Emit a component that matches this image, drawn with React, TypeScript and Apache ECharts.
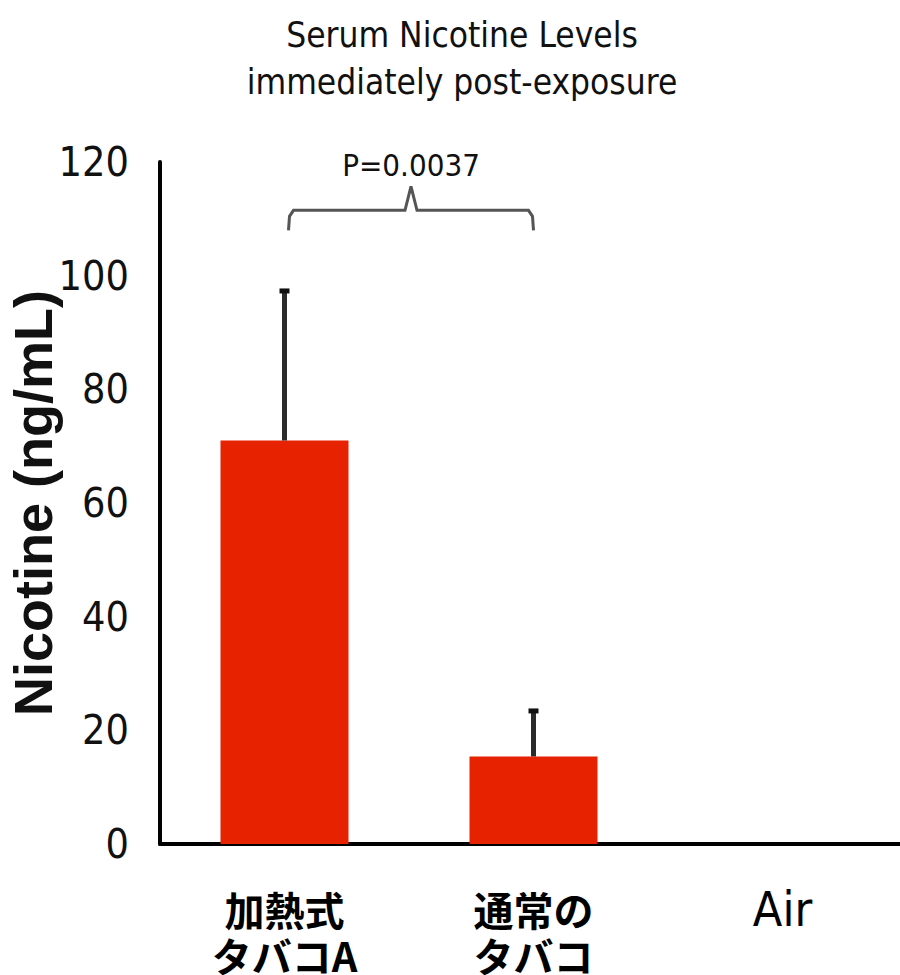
import React, { useEffect, useRef } from "react";
import * as echarts from "echarts";

// ---- data ----
const categories: string[] = ["加熱式\nタバコA", "通常の\nタバコ", "Air"];
const meanNicotine: number[] = [71, 15.4, 0];
const sdNicotine: number[] = [26.4, 8.1, 0];
const yTicks = { min: 0, max: 120, interval: 20 };
const titleLines: string[] = ["Serum Nicotine Levels", "immediately post-exposure"];
const yAxisName = "Nicotine (ng/mL)";
const pValueLabel = "P=0.0037";
const comparePair: number[] = [0, 1];
const bracketLevel = 111.5;

const NARROW = '"Liberation Sans Narrow", "DejaVu Sans Condensed", "Liberation Sans", sans-serif';
const CJK = '"Noto Sans CJK JP", "Noto Sans", sans-serif';

export default function App() {
  const ref = useRef<HTMLDivElement>(null);
  useEffect(() => {
    if (!ref.current) return;
    const chart = echarts.init(ref.current, null, { renderer: "svg" });
    const option: any = {
      animation: false,
      backgroundColor: "#ffffff",
      title: {
        text: titleLines.join("\n"),
        left: 457,
        top: 6,
        textAlign: "center",
        textStyle: {
          fontFamily: NARROW,
          fontSize: 35,
          fontWeight: "normal",
          lineHeight: 47,
          color: "#111",
        },
      },
      grid: {
        left: 160,
        right: -7,
        top: 162,
        bottom: 131,
        containLabel: false,
        outerBoundsMode: "none",
      },
      xAxis: {
        type: "category",
        data: categories,
        axisLine: { show: true, lineStyle: { color: "#000", width: 4 } },
        axisTick: { show: false },
        axisLabel: {
          interval: 0,
          margin: 42,
          hideOverlap: false,
          formatter: (v: string) =>
            v === "Air"
              ? "{a|Air}"
              : v
                  .split("\n")
                  .map((l) => `{c|${l}}`)
                  .join("\n"),
          rich: {
            c: {
              fontFamily: CJK,
              fontWeight: "bold",
              fontSize: 40,
              lineHeight: 46,
              color: "#000",
            },
            a: {
              fontFamily: NARROW,
              fontSize: 48,
              lineHeight: 46,
              color: "#000",
            },
          },
        },
      },
      yAxis: {
        type: "value",
        min: yTicks.min,
        max: yTicks.max,
        interval: yTicks.interval,
        name: yAxisName,
        nameLocation: "middle",
        nameGap: 100,
        nameMoveOverlap: false,
        nameTextStyle: {
          fontFamily: '"Liberation Sans", Arial, sans-serif',
          fontWeight: "bold",
          fontSize: 54,
          color: "#111",
        },
        axisLine: { show: true, lineStyle: { color: "#000", width: 4 } },
        axisTick: { show: false },
        splitLine: { show: false },
        axisLabel: {
          margin: 31,
          fontFamily: NARROW,
          fontSize: 41,
          color: "#111",
        },
      },
      series: [
        {
          type: "bar",
          data: meanNicotine,
          barWidth: 128,
          itemStyle: { color: "#e62200" },
          z: 2,
        },
        {
          type: "custom",
          z: 3,
          data: categories.map((_, i) => [i, meanNicotine[i], sdNicotine[i]]),
          renderItem: (params: any, api: any) => {
            const sd = api.value(2);
            if (!sd) return null;
            const base = api.coord([api.value(0), api.value(1)]);
            const top = api.coord([api.value(0), api.value(1) + sd]);
            return {
              type: "group",
              children: [
                {
                  type: "line",
                  shape: { x1: top[0], y1: top[1], x2: base[0], y2: base[1] },
                  style: { stroke: "#2b2b2b", lineWidth: 5 },
                },
                {
                  type: "rect",
                  shape: { x: top[0] - 5, y: top[1] - 2, width: 10, height: 5 },
                  style: { fill: "#111" },
                },
              ],
            };
          },
        },
        {
          type: "custom",
          z: 3,
          data: [[comparePair[0], comparePair[1], bracketLevel]],
          renderItem: (params: any, api: any) => {
            const a = api.coord([api.value(0), api.value(2)]);
            const b = api.coord([api.value(1), api.value(2)]);
            const y = a[1];
            const x1 = a[0] + 4;
            const x2 = b[0];
            const xm = (x1 + x2) / 2;
            return {
              type: "group",
              children: [
                {
                  type: "polyline",
                  shape: {
                    points: [
                      [x1, y + 20],
                      [x1 + 1, y + 6],
                      [x1 + 5, y],
                      [xm - 6, y],
                      [xm, y - 24],
                      [xm + 6, y],
                      [x2 - 5, y],
                      [x2 - 1, y + 6],
                      [x2, y + 20],
                    ],
                  },
                  style: { stroke: "#555", lineWidth: 3, fill: null },
                },
                {
                  type: "text",
                  style: {
                    text: pValueLabel,
                    x: xm,
                    y: y - 45,
                    align: "center",
                    verticalAlign: "middle",
                    font: `31px ${NARROW}`,
                    fill: "#111",
                  },
                },
              ],
            };
          },
        },
      ],
    };
    chart.setOption(option);
    return () => chart.dispose();
  }, []);
  return (
    <div
      ref={ref}
      style={{ position: "absolute", left: 0, top: 0, width: 900, height: 975 }}
    />
  );
}
